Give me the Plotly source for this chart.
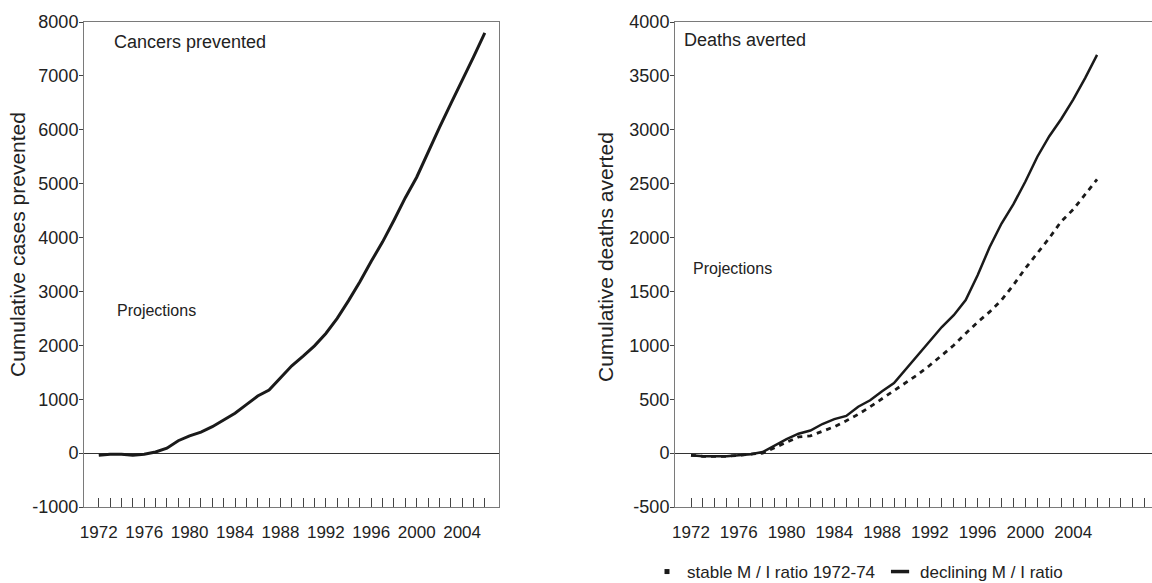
import plotly.graph_objects as go

# ---------------- data ----------------
years = [1972, 1973, 1974, 1975, 1976, 1977, 1978, 1979, 1980, 1981, 1982, 1983,
         1984, 1985, 1986, 1987, 1988, 1989, 1990, 1991, 1992, 1993, 1994, 1995,
         1996, 1997, 1998, 1999, 2000, 2001, 2002, 2003, 2004, 2005, 2006]

cases_prevented = [-40, -20, -20, -40, -20, 20, 90, 230, 320, 390, 490, 620,
                   740, 900, 1060, 1170, 1400, 1620, 1800, 1990, 2220, 2500, 2830, 3180,
                   3560, 3920, 4320, 4740, 5120, 5590, 6040, 6480, 6900, 7350, 7800]

deaths_stable = [-20, -30, -30, -30, -20, -10, 10, 70, 130, 180, 210, 270,
                 315, 345, 430, 490, 575, 650, 780, 905, 1045, 1170, 1280, 1420,
                 1650, 1910, 2130, 2310, 2520, 2750, 2940, 3100, 3280, 3480, 3695]

deaths_declining = [-20, -30, -30, -30, -20, -10, 0, 50, 100, 150, 160, 205,
                    245, 300, 360, 430, 505, 575, 655, 730, 815, 905, 1000, 1110,
                    1215, 1310, 1420, 1560, 1715, 1855, 1995, 2150, 2260, 2400, 2540]

left_tick_years = [1972, 1973, 1974, 1975, 1976, 1977, 1978, 1979, 1980, 1981, 1982, 1983,
                   1984, 1985, 1986, 1987, 1988, 1989, 1990, 1991, 1992, 1993, 1994, 1995,
                   1996, 1997, 1998, 1999, 2000, 2001, 2002, 2003, 2004, 2005, 2006]
right_tick_years = left_tick_years + [2007, 2008, 2009, 2010]
labelled_years = [1972, 1976, 1980, 1984, 1988, 1992, 1996, 2000, 2004]

left_y_ticks = [-1000, 0, 1000, 2000, 3000, 4000, 5000, 6000, 7000, 8000]
right_y_ticks = [-500, 0, 500, 1000, 1500, 2000, 2500, 3000, 3500, 4000]

series_names = ["stable M / I ratio 1972-74", "declining M / I ratio"]
panel_titles = ["Cancers prevented", "Deaths averted"]
y_titles = ["Cumulative cases prevented", "Cumulative deaths averted"]
inner_note = "Projections"

# ---------------- styling ----------------
FONT = "Liberation Sans, Arial, Helvetica, sans-serif"
TXT = "#222222"
AX = "#7a7a7a"
W, H = 1152, 583


def ticktext(tick_years):
    return [str(y) if y in labelled_years else "" for y in tick_years]


fig = go.Figure()

fig.add_trace(go.Scatter(x=years, y=cases_prevented, mode="lines",
                         line=dict(color="#1a1a1a", width=3),
                         xaxis="x", yaxis="y", showlegend=False))

fig.add_trace(go.Scatter(x=years, y=deaths_stable, mode="lines",
                         line=dict(color="#1a1a1a", width=2.5),
                         xaxis="x2", yaxis="y2", showlegend=False,
                         legendgroup="s", name=series_names[0]))
fig.add_trace(go.Scatter(x=years, y=deaths_declining, mode="lines",
                         line=dict(color="#1a1a1a", width=2.8, dash="5px,5px"),
                         xaxis="x2", yaxis="y2", showlegend=False,
                         legendgroup="d", name=series_names[1]))

# legend entries (symbols as drawn in the reference legend)
fig.add_trace(go.Scatter(x=[None], y=[None], mode="markers", name=series_names[0],
                         marker=dict(symbol="square", size=5, color="#1a1a1a"),
                         xaxis="x2", yaxis="y2", legendgroup="s"))
fig.add_trace(go.Scatter(x=[None], y=[None], mode="markers", name=series_names[1],
                         marker=dict(symbol="line-ew", size=13, color="#1a1a1a",
                                     line=dict(width=3.5, color="#1a1a1a")),
                         xaxis="x2", yaxis="y2", legendgroup="d"))

ydom = [1 - 507 / H, 1 - 22 / H]

xcommon = dict(showgrid=False, zeroline=False, showline=True, linecolor=AX, linewidth=1,
               ticks="inside", ticklen=9, tickcolor="#444444", tickwidth=1,
               tickmode="array", tickfont=dict(family=FONT, size=17, color=TXT),
               ticklabelstandoff=10, automargin=False)
ycommon = dict(showgrid=False, zeroline=True, zerolinecolor="#333333", zerolinewidth=1,
               showline=True, linecolor=AX, linewidth=1, ticks="outside", ticklen=4,
               tickcolor="#444444", tickfont=dict(family=FONT, size=18, color=TXT),
               domain=ydom, tickmode="array", automargin=False, ticklabelstandoff=-3)

fig.update_layout(
    width=W, height=H,
    margin=dict(l=0, r=0, t=0, b=0, autoexpand=False),
    paper_bgcolor="white", plot_bgcolor="white",
    font=dict(family=FONT, color=TXT),
    xaxis=dict(xcommon, domain=[84 / W, 499 / W], range=[1970.7, 2007.25],
               tickvals=left_tick_years, ticktext=ticktext(left_tick_years),
               anchor="y", mirror=True),
    yaxis=dict(ycommon, range=[-1000, 8000], tickvals=left_y_ticks,
               ticktext=[str(v) for v in left_y_ticks], anchor="x", mirror=True),
    xaxis2=dict(xcommon, domain=[675 / W, 1.0], range=[1970.66, 2010.6],
                tickvals=right_tick_years, ticktext=ticktext(right_tick_years),
                anchor="y2", mirror=True),
    yaxis2=dict(ycommon, range=[-500, 4000], tickvals=right_y_ticks,
                ticktext=[str(v) for v in right_y_ticks], anchor="x2", mirror=False),
    legend=dict(orientation="h", x=647 / W, xanchor="left", y=1 - 572 / H, yanchor="middle",
                font=dict(family=FONT, size=17, color=TXT), bgcolor="rgba(0,0,0,0)",
                itemwidth=30, tracegroupgap=0),
)

ann = [
    dict(text=panel_titles[0], x=112 / W, y=1 - 42 / H, xanchor="left", yanchor="middle",
         font=dict(size=18)),
    dict(text=inner_note, x=115 / W, y=1 - 310 / H, xanchor="left", yanchor="middle",
         font=dict(size=16)),
    dict(text=panel_titles[1], x=682 / W, y=1 - 40 / H, xanchor="left", yanchor="middle",
         font=dict(size=18)),
    dict(text=inner_note, x=691 / W, y=1 - 269 / H, xanchor="left", yanchor="middle",
         font=dict(size=16)),
    dict(text=y_titles[0], x=17 / W, y=1 - 245 / H, xanchor="center", yanchor="middle",
         textangle=-90, font=dict(size=21)),
    dict(text=y_titles[1], x=605 / W, y=1 - 257 / H, xanchor="center", yanchor="middle",
         textangle=-90, font=dict(size=21)),
]
for a in ann:
    a.update(xref="paper", yref="paper", showarrow=False)
    a["font"].update(family=FONT, color=TXT)
fig.update_layout(annotations=ann)

fig.write_html(
    "out.html",
    config={"displayModeBar": False},
    post_script="document.body.style.margin='0';document.body.style.overflow='hidden';",
)
